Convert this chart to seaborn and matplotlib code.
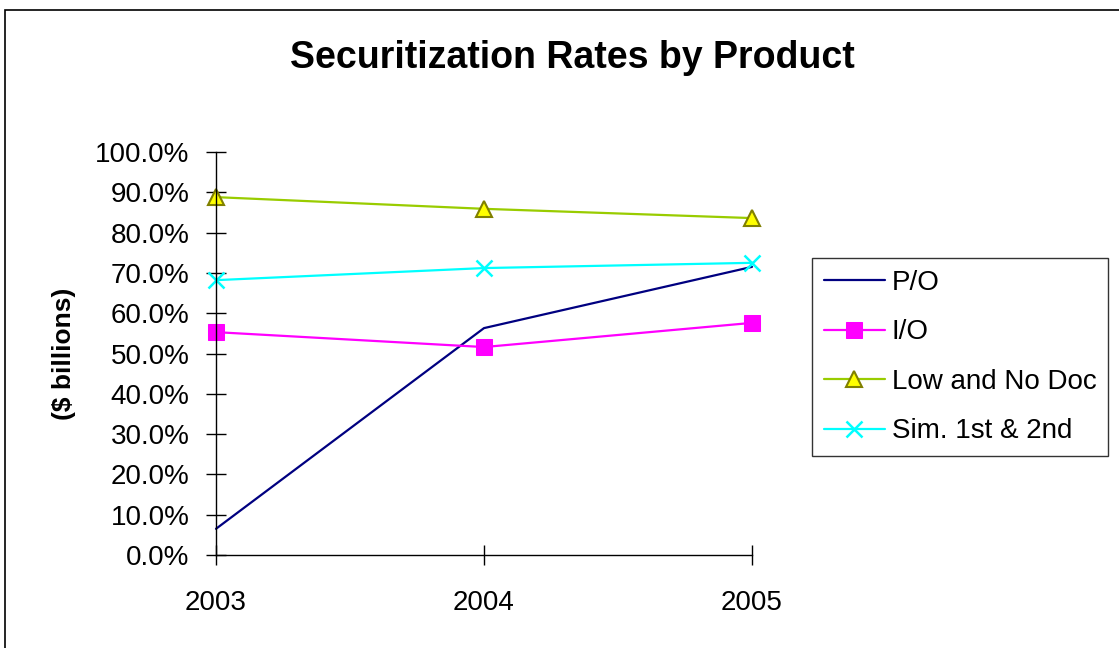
import matplotlib
matplotlib.use("Agg")
import seaborn as sns
import matplotlib.pyplot as plt
import matplotlib.ticker as ticker
from matplotlib.patches import Rectangle

# data
years = [2003, 2004, 2005]
po = [6.5, 56.3, 71.5]
io = [55.3, 51.6, 57.6]
low_no_doc = [88.8, 85.9, 83.6]
sim_1st_2nd = [68.2, 71.2, 72.5]

sns.set_style('white')
plt.rcParams['font.family'] = ['Liberation Sans', 'DejaVu Sans']
plt.rcParams['text.color'] = 'black'
plt.rcParams['axes.labelcolor'] = 'black'
plt.rcParams['xtick.color'] = 'black'
plt.rcParams['ytick.color'] = 'black'

fig = plt.figure(figsize=(11.19, 6.48), dpi=100)
ax = fig.add_axes([216 / 1119, 1 - 555 / 648, (752 - 216) / 1119, (555 - 152) / 648])

# outer chart frame (Excel style)
fig.patches.append(Rectangle((5 / 1119, -0.1), 1.2, 1 - 10 / 648 + 0.1, transform=fig.transFigure,
                             fill=False, edgecolor='black', linewidth=1.2))

sns.lineplot(x=years, y=po, ax=ax, color='#000080', linewidth=1.6, label='P/O')
sns.lineplot(x=years, y=io, ax=ax, color='#FF00FF', linewidth=1.6, marker='s', markersize=11,
             markerfacecolor='#FF00FF', markeredgecolor='#FF00FF', label='I/O')
sns.lineplot(x=years, y=low_no_doc, ax=ax, color='#99CC00', linewidth=1.6, marker='^', markersize=11,
             markerfacecolor='#FFFF00', markeredgecolor='#808000', markeredgewidth=1.5, label='Low and No Doc')
sns.lineplot(x=years, y=sim_1st_2nd, ax=ax, color='#00FFFF', linewidth=1.6, marker='x', markersize=11,
             markeredgecolor='#00FFFF', markeredgewidth=1.8, label='Sim. 1st & 2nd')

for line in ax.get_lines():
    line.set_clip_on(False)

ax.set_xlim(2003, 2005)
ax.set_ylim(0, 100)
ax.xaxis.set_major_locator(ticker.FixedLocator(years))
ax.xaxis.set_major_formatter(ticker.FormatStrFormatter('%d'))
ax.yaxis.set_major_locator(ticker.MultipleLocator(10))
ax.yaxis.set_major_formatter(ticker.PercentFormatter(decimals=1))

for side in ['top', 'right']:
    ax.spines[side].set_visible(False)
for side in ['left', 'bottom']:
    ax.spines[side].set_color('black')
    ax.spines[side].set_linewidth(1.0)
ax.patch.set_alpha(0)

ax.tick_params(axis='both', bottom=True, left=True, direction='inout', length=14, width=1.0,
               color='black', labelcolor='black', labelsize=20)
ax.tick_params(axis='x', pad=18)
ax.tick_params(axis='y', pad=12)

ax.set_xlabel('')
ax.set_ylabel('($ billions)', fontsize=19, fontweight='bold', labelpad=14)

fig.text(572 / 1119, 1 - 58 / 648, 'Securitization Rates by Product', ha='center', va='center',
         fontsize=27, fontweight='bold')

leg = ax.legend(loc='upper left', bbox_to_anchor=(812 / 1119, 1 - 258 / 648),
                bbox_transform=fig.transFigure, fontsize=20, frameon=True, fancybox=False,
                handlelength=2.2, handletextpad=0.25, labelspacing=0.85, borderpad=0.42,
                borderaxespad=0)
leg.get_frame().set_edgecolor('black')
leg.get_frame().set_linewidth(1.0)
for t in leg.get_texts():
    t.set_color('black')

plt.savefig('out.png', dpi=100)
